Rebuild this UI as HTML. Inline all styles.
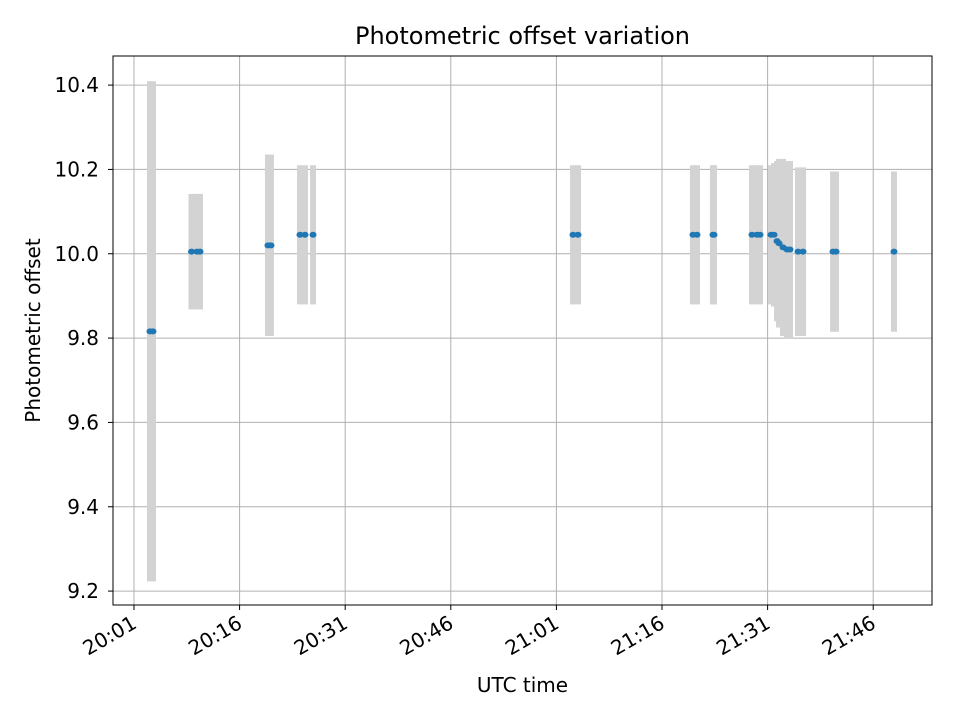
<!DOCTYPE html>
<html><head><meta charset="utf-8"><style>
body{margin:0;background:#fff;font-family:"Liberation Sans","DejaVu Sans",sans-serif;}
svg text{font-family:"DejaVu Sans","Liberation Sans",sans-serif;}
</style></head><body>
<svg id="c" width="960" height="720">
<rect width="960" height="720" fill="#fff"/>
</svg>
<script>
const times=[3.27,3.70,9.17,9.95,10.38,20.03,20.46,24.58,25.29,26.43,63.36,64.07,80.40,80.97,83.24,83.38,88.78,89.49,89.92,91.48,91.91,92.34,92.62,93.19,93.76,94.18,95.32,96.03,100.29,100.72,108.95];
const offsets=[9.816,9.816,10.005,10.005,10.005,10.02,10.02,10.045,10.045,10.045,10.045,10.045,10.045,10.045,10.045,10.045,10.045,10.045,10.045,10.045,10.045,10.03,10.025,10.015,10.01,10.01,10.005,10.005,10.005,10.005,10.005];
const errors=[0.593,0.593,0.137,0.137,0.137,0.215,0.215,0.165,0.165,0.165,0.165,0.165,0.165,0.165,0.165,0.165,0.165,0.165,0.165,0.165,0.17,0.19,0.2,0.21,0.21,0.21,0.2,0.2,0.19,0.19,0.19];
const yTicks=[9.2,9.4,9.6,9.8,10.0,10.2,10.4];
const xTicks=[1,16,31,46,61,76,91,106];
const xTickLabels=["20:01","20:16","20:31","20:46","21:01","21:16","21:31","21:46"];

const L=113,R=932,T=56,B=605;
const xMin=-1.98,xMax=114.35,yMin=9.167,yMax=10.469;
const xs=v=>L+(v-xMin)/(xMax-xMin)*(R-L);
const ys=v=>B-(v-yMin)/(yMax-yMin)*(B-T);
const svg=document.getElementById('c');
const NS='http://www.w3.org/2000/svg';
function mk(tag,attrs,parent){const e=document.createElementNS(NS,tag);for(const k in attrs)e.setAttribute(k,attrs[k]);(parent||svg).appendChild(e);return e;}

yTicks.forEach(v=>{const y=ys(v);
 const g=mk('line',{x1:L,x2:R,y1:y,y2:y,stroke:'#b0b0b0','stroke-width':1});
 
 mk('line',{x1:L-5,x2:L,y1:y,y2:y,stroke:'#000'});
 const t=mk('text',{x:L-14,y:y+7,'text-anchor':'end','font-size':20,fill:'#000'});t.textContent=v.toFixed(1);
 
});
xTicks.forEach((v,i)=>{const x=xs(v);
 const g=mk('line',{x1:x,x2:x,y1:T,y2:B,stroke:'#b0b0b0','stroke-width':1});
 
 mk('line',{x1:x,x2:x,y1:B,y2:B+5,stroke:'#000'});
 const t=mk('text',{x:x+4,y:B+22,'text-anchor':'end','font-size':20,fill:'#000',transform:`rotate(-30 ${x+4} ${B+22})`});t.textContent=xTickLabels[i];
 
});
times.forEach((tv,i)=>{const x=xs(tv);
 const e=mk('line',{x1:x,x2:x,y1:ys(offsets[i]+errors[i]),y2:ys(offsets[i]-errors[i]),stroke:'#d3d3d3','stroke-width':6});
 
});
times.forEach((tv,i)=>{
 const p=mk('ellipse',{cx:xs(tv),cy:ys(offsets[i]),rx:3.5,ry:3,fill:'#1f77b4'});
 
});
const fr=mk('rect',{x:L,y:T,width:R-L,height:B-T,fill:'none',stroke:'#000','stroke-width':1});

const ti=mk('text',{x:(L+R)/2,y:44,'text-anchor':'middle','font-size':24});ti.textContent='Photometric offset variation';

const xl=mk('text',{x:(L+R)/2,y:692,'text-anchor':'middle','font-size':20});xl.textContent='UTC time';

const yl=mk('text',{x:40,y:(T+B)/2,'text-anchor':'middle','font-size':20,transform:`rotate(-90 40 ${(T+B)/2})`});yl.textContent='Photometric offset';

</script>
</body></html>
